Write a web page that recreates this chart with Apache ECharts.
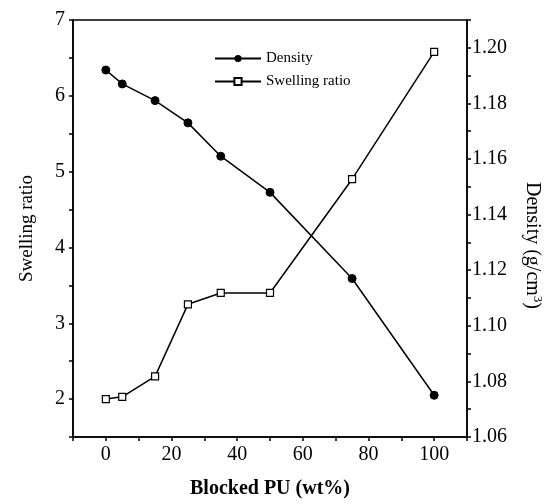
<!DOCTYPE html>
<html>
<head>
<meta charset="utf-8">
<script src="https://cdn.jsdelivr.net/npm/echarts@6/dist/echarts.min.js"></script>
<style>html,body{margin:0;padding:0;background:#fff}#c{width:553px;height:504px}</style>
</head>
<body>
<div id="c"></div>
<script>
const blockedPU = [0, 5, 15, 25, 35, 50, 75, 100];
const swellingRatio = [2.0, 2.03, 2.3, 3.25, 3.4, 3.4, 4.9, 6.58];
const density = [1.192, 1.187, 1.181, 1.173, 1.161, 1.148, 1.117, 1.075];
const xTickLabels = [0, 20, 40, 60, 80, 100];
const leftTickLabels = [2, 3, 4, 5, 6, 7];
const rightTickLabels = [1.06, 1.08, 1.10, 1.12, 1.14, 1.16, 1.18, 1.20];

const font = 'Liberation Serif';
const chart = echarts.init(document.getElementById('c'));
const pair = (xs, ys) => xs.map((x, i) => [x, ys[i]]);

chart.setOption({
  animation: false,
  backgroundColor: '#fff',
  textStyle: { fontFamily: font, color: '#000' },
  grid: { left: 73, right: 86, top: 20, bottom: 67, show: true, borderColor: '#000', borderWidth: 1.5, backgroundColor: 'transparent' },
  legend: {
    orient: 'vertical', left: 209, top: 46, itemWidth: 46, itemHeight: 9, itemGap: 8,
    textStyle: { fontFamily: font, fontSize: 15, color: '#000' },
    data: ['Density', 'Swelling ratio']
  },
  xAxis: {
    type: 'value', min: -10, max: 110, interval: 10,
    name: 'Blocked PU (wt%)', nameLocation: 'middle', nameGap: 42,
    nameTextStyle: { fontFamily: font, fontSize: 20, fontWeight: 'bold', color: '#000' },
    axisLine: { onZero: false, lineStyle: { color: '#000', width: 1.5 } },
    axisTick: { length: 4, lineStyle: { color: '#000', width: 1.5 } },
    axisLabel: { customValues: xTickLabels, fontFamily: font, fontSize: 20, color: '#000', margin: 8 },
    splitLine: { show: false }
  },
  yAxis: [
    {
      type: 'value', min: 1.5, max: 7, interval: 0.5, position: 'left',
      name: 'Swelling ratio', nameLocation: 'middle', nameGap: 36,
      nameTextStyle: { fontFamily: font, fontSize: 19, color: '#000' },
      axisLine: { show: true, onZero: false, lineStyle: { color: '#000', width: 1.5 } },
      axisTick: { show: true, length: 4, lineStyle: { color: '#000', width: 1.5 } },
      axisLabel: { customValues: leftTickLabels, fontFamily: font, fontSize: 20, color: '#000', margin: 8 },
      splitLine: { show: false }
    },
    {
      type: 'value', min: 1.06, max: 1.21, interval: 0.01, position: 'right',
      name: 'Density (g/cm{sup|3})', nameLocation: 'middle', nameGap: 54, nameRotate: -90,
      nameTextStyle: { fontFamily: font, fontSize: 20, color: '#000', padding: [0, 0, 0, 34],
        rich: { sup: { fontFamily: font, fontSize: 13, verticalAlign: 'top', padding: [0, 0, 10, 0] } } },
      axisLine: { show: true, onZero: false, lineStyle: { color: '#000', width: 1.5 } },
      axisTick: { show: true, length: 4, lineStyle: { color: '#000', width: 1.5 } },
      axisLabel: { customValues: rightTickLabels, formatter: v => v.toFixed(2), fontFamily: font, fontSize: 20, color: '#000', margin: 5 },
      splitLine: { show: false }
    }
  ],
  series: [
    {
      name: 'Density', type: 'line', yAxisIndex: 1,
      data: pair(blockedPU, density),
      symbol: 'circle', symbolSize: 8,
      lineStyle: { color: '#000', width: 1.5 },
      itemStyle: { color: '#000', borderColor: '#000' }
    },
    {
      name: 'Swelling ratio', type: 'line', yAxisIndex: 0,
      data: pair(blockedPU, swellingRatio),
      symbol: 'rect', symbolSize: 7,
      lineStyle: { color: '#000', width: 1.5 },
      itemStyle: { color: '#fff', borderColor: '#000', borderWidth: 1.2 }
    }
  ]
});
</script>
</body>
</html>
